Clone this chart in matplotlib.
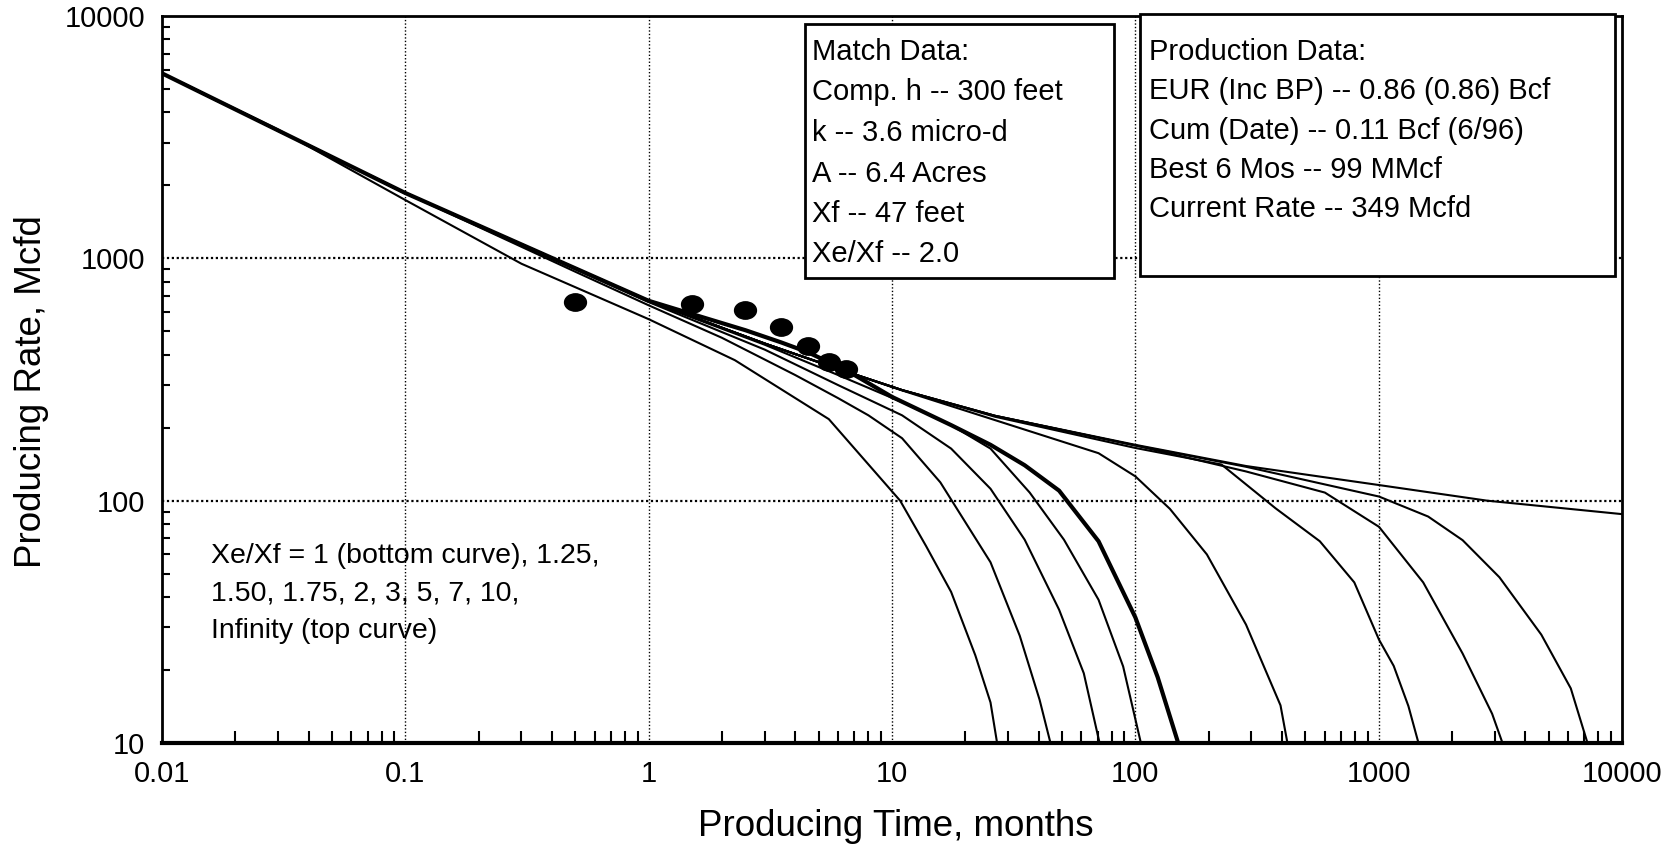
import matplotlib
matplotlib.use("Agg")
import matplotlib.pyplot as plt
from matplotlib.patches import Rectangle
from matplotlib.markers import MarkerStyle
from matplotlib.transforms import Affine2D
from matplotlib.ticker import LogLocator, NullFormatter, FixedLocator, FixedFormatter

plt.rcParams["font.family"] = ["Liberation Sans", "DejaVu Sans"]

# Type curves: producing time (months) vs producing rate (Mcfd), one per Xe/Xf
XE_XF = ["1", "1.25", "1.50", "1.75", "2", "3", "5", "7", "10", "Infinity"]
MATCH_CURVE = "2"

t_1 = [0.01, 0.03, 0.1, 0.3, 1.0, 2.26, 5.5, 10.8, 13.8, 17.5, 22.0, 25.4, 27.5]
q_1 = [5800, 3400, 1740, 950, 561, 380, 217, 100, 65, 42, 23, 14.7, 9]

t_125 = [0.01, 0.1, 0.5, 1.0, 2.0, 4.0, 6.0, 8.0, 11.0, 15.8, 25.4, 33.5, 40.4, 46]
q_125 = [5800, 1860, 880, 640, 470, 330, 265, 225, 181, 119, 55.7, 27.7, 15.1, 9]

t_150 = [0.01, 0.1, 1.0, 3.0, 6.0, 11.0, 17.5, 25.4, 35.1, 48.6, 61.4, 73]
q_150 = [5800, 1860, 660, 420, 300, 225, 164, 112, 69, 35.5, 19.4, 9]

t_175 = [0.01, 0.1, 1.0, 3.0, 6.0, 11.0, 17.5, 25.4, 36.8, 50.9, 70.6, 89.1, 108]
q_175 = [5800, 1860, 665, 440, 330, 255, 205, 164, 108, 69, 39, 20.7, 9]

t_2 = [0.01, 0.1, 1.0, 1.5, 2.5, 3.5, 4.5, 6.5, 10.0, 17.5, 25.4, 35.1, 48.6, 70.6, 100, 123.5, 155]
q_2 = [5800, 1860, 668, 590, 505, 450, 410, 345, 268, 205, 170, 140, 110, 68, 33, 18.7, 9]

t_3 = [0.01, 0.1, 1.0, 3.0, 6.0, 11.0, 26.5, 70.6, 100, 138.7, 196.8, 285, 395, 430]
q_3 = [5800, 1860, 668, 445, 350, 285, 215, 157, 126, 92.5, 60, 30.8, 14.3, 9]

t_5 = [0.01, 0.1, 1.0, 3.0, 6.0, 11.0, 26.5, 100, 226, 377, 573, 794, 1003, 1153, 1325, 1500]
q_5 = [5800, 1860, 668, 445, 350, 286, 222, 165, 141, 93, 68, 46, 26.7, 20.8, 14.2, 9]

t_7 = [0.01, 0.1, 1.0, 3.0, 6.0, 11.0, 26.5, 100, 285, 601, 1003, 1524, 2213, 2926, 3350]
q_7 = [5800, 1860, 668, 445, 350, 286, 224, 169, 132, 108, 78, 46, 23.4, 13.2, 9]

t_10 = [0.01, 0.1, 1.0, 3.0, 6.0, 11.0, 26.5, 100, 285, 1003, 1597, 2213, 3135, 4660, 6160, 7450]
q_10 = [5800, 1860, 668, 445, 350, 286, 224, 169, 138, 104, 86, 68.7, 48.3, 28, 16.8, 9]

t_inf = [0.01, 0.1, 1.0, 3.0, 6.0, 11.0, 26.5, 100, 285, 1003, 2790, 10000]
q_inf = [5800, 1860, 670, 445, 350, 286, 224, 170, 139, 116, 100, 88]

CURVES_T = [t_1, t_125, t_150, t_175, t_2, t_3, t_5, t_7, t_10, t_inf]
CURVES_Q = [q_1, q_125, q_150, q_175, q_2, q_3, q_5, q_7, q_10, q_inf]

# Monthly production data (mid-month)
prod_t = [0.5, 1.5, 2.5, 3.5, 4.5, 5.5, 6.5]
prod_q = [660, 650, 612, 523, 434, 375, 349]

match_lines = [
    "Match Data:",
    "Comp. h -- 300 feet",
    "k -- 3.6 micro-d",
    "A -- 6.4 Acres",
    "Xf -- 47 feet",
    "Xe/Xf -- 2.0",
]
production_lines = [
    "Production Data:",
    "EUR (Inc BP) -- 0.86 (0.86) Bcf",
    "Cum (Date) -- 0.11 Bcf (6/96)",
    "Best 6 Mos -- 99 MMcf",
    "Current Rate -- 349 Mcfd",
]
note_lines = [
    "Xe/Xf = 1 (bottom curve), 1.25,",
    "1.50, 1.75, 2, 3, 5, 7, 10,",
    "Infinity (top curve)",
]

x_ticks = [0.01, 0.1, 1, 10, 100, 1000, 10000]
x_tick_labels = ["0.01", "0.1", "1", "10", "100", "1000", "10000"]
y_ticks = [10, 100, 1000, 10000]
y_tick_labels = ["10", "100", "1000", "10000"]


def main():
    W, H = 1671, 848
    fig = plt.figure(figsize=(W / 100, H / 100), dpi=100)
    ax = fig.add_axes([162 / W, 1 - 743 / H, 1460 / W, 727 / H])

    ax.set_xscale("log")
    ax.set_yscale("log")
    ax.set_xlim(0.01, 10000)
    ax.set_ylim(10, 10000)

    for name, t, q in zip(XE_XF, CURVES_T, CURVES_Q):
        lw = 3.0 if name == MATCH_CURVE else 1.5
        ax.plot(t, q, color="black", lw=lw, solid_joinstyle="round", zorder=3)

    # slightly flattened dots
    dot = MarkerStyle("o", transform=Affine2D().scale(1.26, 1.0))
    ax.plot(prod_t, prod_q, ls="none", marker=dot, ms=12.5, color="black", zorder=4)

    # grid: dotted lines at the decades only
    for xv in [0.1, 1, 10, 100, 1000]:
        ax.axvline(xv, color="black", lw=1.0, ls=(0, (1, 1.5)), zorder=1)
    for yv in [100, 1000]:
        ax.axhline(yv, color="black", lw=1.6, ls=(0, (1, 1.2)), zorder=1)

    ax.xaxis.set_major_locator(FixedLocator(x_ticks))
    ax.xaxis.set_major_formatter(FixedFormatter(x_tick_labels))
    ax.yaxis.set_major_locator(FixedLocator(y_ticks))
    ax.yaxis.set_major_formatter(FixedFormatter(y_tick_labels))
    ax.xaxis.set_minor_locator(LogLocator(base=10, subs=range(2, 10)))
    ax.yaxis.set_minor_locator(LogLocator(base=10, subs=range(2, 10)))
    ax.xaxis.set_minor_formatter(NullFormatter())
    ax.yaxis.set_minor_formatter(NullFormatter())
    ax.tick_params(which="major", length=0, labelsize=21, pad=12)
    ax.tick_params(axis="x", which="minor", direction="in", length=9, width=1.5,
                   top=False)
    ax.tick_params(axis="y", which="minor", direction="in", length=6, width=1.5,
                   right=False)

    for side in ["left", "right", "top"]:
        ax.spines[side].set_linewidth(2.0)
    ax.spines["bottom"].set_linewidth(3.0)

    fig.text(896 / W, 1 - 826 / H, "Producing Time, months", fontsize=26.5,
             ha="center", va="center")
    fig.text(32 / W, 1 - 392 / H, "Producing Rate, Mcfd", fontsize=26.5,
             ha="center", va="center", rotation=90)

    # text boxes (figure pixel coordinates measured from top-left)
    def text_box(x0, y0, x1, y1, lines, tx, ty, step):
        fig.patches.append(Rectangle((x0 / W, 1 - y1 / H), (x1 - x0) / W, (y1 - y0) / H,
                                     transform=fig.transFigure, facecolor="white",
                                     edgecolor="black", lw=2.0, zorder=5))
        for i, s in enumerate(lines):
            fig.text(tx / W, 1 - (ty + i * step) / H, s, fontsize=21,
                     ha="left", va="center", zorder=6)

    text_box(805, 24, 1114, 278, match_lines, 812, 52, 40.5)
    text_box(1140, 14, 1615, 276, production_lines, 1149, 52, 39.3)

    for i, s in enumerate(note_lines):
        fig.text(211 / W, 1 - (556 + i * 37.3) / H, s, fontsize=20.5,
                 ha="left", va="center")

    fig.savefig("out.png", dpi=100, facecolor="white")
    plt.close(fig)


if __name__ == "__main__":
    main()
